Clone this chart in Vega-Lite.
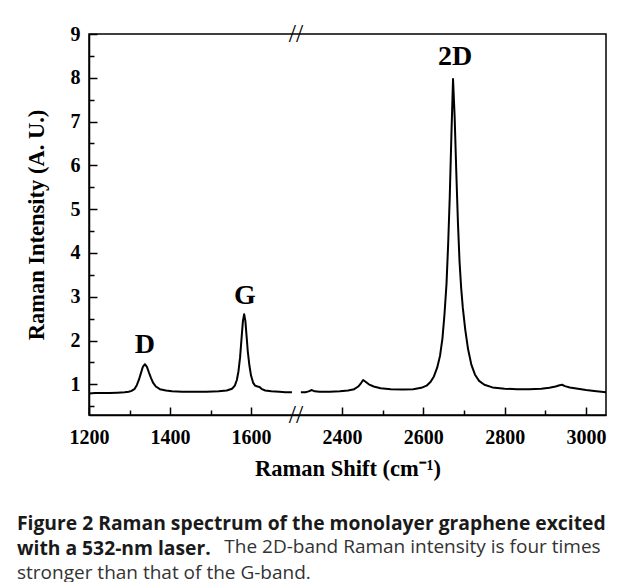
{
  "$schema": "https://vega.github.io/schema/vega-lite/v6.json",
  "width": 517,
  "height": 381,
  "padding": {"left": 17, "top": 21, "right": 5, "bottom": 0},
  "background": "white",
  "datasets": {
    "spectrum": [
      {"shift": 1200, "intensity": 0.79, "seg": "a"},
      {"shift": 1215, "intensity": 0.80, "seg": "a"},
      {"shift": 1230, "intensity": 0.80, "seg": "a"},
      {"shift": 1250, "intensity": 0.80, "seg": "a"},
      {"shift": 1270, "intensity": 0.81, "seg": "a"},
      {"shift": 1288, "intensity": 0.82, "seg": "a"},
      {"shift": 1298, "intensity": 0.83, "seg": "a"},
      {"shift": 1305, "intensity": 0.85, "seg": "a"},
      {"shift": 1312, "intensity": 0.89, "seg": "a"},
      {"shift": 1318, "intensity": 0.98, "seg": "a"},
      {"shift": 1323, "intensity": 1.10, "seg": "a"},
      {"shift": 1328, "intensity": 1.25, "seg": "a"},
      {"shift": 1333, "intensity": 1.40, "seg": "a"},
      {"shift": 1338, "intensity": 1.46, "seg": "a"},
      {"shift": 1343, "intensity": 1.40, "seg": "a"},
      {"shift": 1348, "intensity": 1.27, "seg": "a"},
      {"shift": 1353, "intensity": 1.15, "seg": "a"},
      {"shift": 1358, "intensity": 1.04, "seg": "a"},
      {"shift": 1365, "intensity": 0.95, "seg": "a"},
      {"shift": 1375, "intensity": 0.89, "seg": "a"},
      {"shift": 1390, "intensity": 0.86, "seg": "a"},
      {"shift": 1405, "intensity": 0.84, "seg": "a"},
      {"shift": 1430, "intensity": 0.83, "seg": "a"},
      {"shift": 1460, "intensity": 0.83, "seg": "a"},
      {"shift": 1490, "intensity": 0.83, "seg": "a"},
      {"shift": 1520, "intensity": 0.84, "seg": "a"},
      {"shift": 1540, "intensity": 0.86, "seg": "a"},
      {"shift": 1553, "intensity": 0.90, "seg": "a"},
      {"shift": 1560, "intensity": 0.97, "seg": "a"},
      {"shift": 1565, "intensity": 1.10, "seg": "a"},
      {"shift": 1569, "intensity": 1.30, "seg": "a"},
      {"shift": 1573, "intensity": 1.62, "seg": "a"},
      {"shift": 1577, "intensity": 2.10, "seg": "a"},
      {"shift": 1580, "intensity": 2.45, "seg": "a"},
      {"shift": 1583, "intensity": 2.60, "seg": "a"},
      {"shift": 1586, "intensity": 2.45, "seg": "a"},
      {"shift": 1589, "intensity": 2.10, "seg": "a"},
      {"shift": 1592, "intensity": 1.75, "seg": "a"},
      {"shift": 1596, "intensity": 1.43, "seg": "a"},
      {"shift": 1600, "intensity": 1.20, "seg": "a"},
      {"shift": 1605, "intensity": 1.04, "seg": "a"},
      {"shift": 1610, "intensity": 0.97, "seg": "a"},
      {"shift": 1616, "intensity": 0.95, "seg": "a"},
      {"shift": 1621, "intensity": 0.94, "seg": "a"},
      {"shift": 1627, "intensity": 0.89, "seg": "a"},
      {"shift": 1635, "intensity": 0.86, "seg": "a"},
      {"shift": 1650, "intensity": 0.84, "seg": "a"},
      {"shift": 1670, "intensity": 0.83, "seg": "a"},
      {"shift": 1685, "intensity": 0.82, "seg": "a"},
      {"shift": 1701, "intensity": 0.82, "seg": "a"},
      {"shift": 2299, "intensity": 0.82, "seg": "b"},
      {"shift": 2310, "intensity": 0.82, "seg": "b"},
      {"shift": 2318, "intensity": 0.84, "seg": "b"},
      {"shift": 2326, "intensity": 0.87, "seg": "b"},
      {"shift": 2333, "intensity": 0.84, "seg": "b"},
      {"shift": 2345, "intensity": 0.83, "seg": "b"},
      {"shift": 2370, "intensity": 0.83, "seg": "b"},
      {"shift": 2395, "intensity": 0.84, "seg": "b"},
      {"shift": 2415, "intensity": 0.86, "seg": "b"},
      {"shift": 2430, "intensity": 0.89, "seg": "b"},
      {"shift": 2440, "intensity": 0.95, "seg": "b"},
      {"shift": 2447, "intensity": 1.03, "seg": "b"},
      {"shift": 2452, "intensity": 1.10, "seg": "b"},
      {"shift": 2458, "intensity": 1.06, "seg": "b"},
      {"shift": 2466, "intensity": 1.00, "seg": "b"},
      {"shift": 2478, "intensity": 0.95, "seg": "b"},
      {"shift": 2495, "intensity": 0.91, "seg": "b"},
      {"shift": 2520, "intensity": 0.89, "seg": "b"},
      {"shift": 2550, "intensity": 0.88, "seg": "b"},
      {"shift": 2575, "intensity": 0.89, "seg": "b"},
      {"shift": 2595, "intensity": 0.92, "seg": "b"},
      {"shift": 2608, "intensity": 0.97, "seg": "b"},
      {"shift": 2618, "intensity": 1.06, "seg": "b"},
      {"shift": 2626, "intensity": 1.18, "seg": "b"},
      {"shift": 2634, "intensity": 1.38, "seg": "b"},
      {"shift": 2641, "intensity": 1.65, "seg": "b"},
      {"shift": 2647, "intensity": 2.05, "seg": "b"},
      {"shift": 2652, "intensity": 2.60, "seg": "b"},
      {"shift": 2657, "intensity": 3.30, "seg": "b"},
      {"shift": 2661, "intensity": 4.20, "seg": "b"},
      {"shift": 2665, "intensity": 5.30, "seg": "b"},
      {"shift": 2669, "intensity": 6.70, "seg": "b"},
      {"shift": 2673, "intensity": 7.97, "seg": "b"},
      {"shift": 2677, "intensity": 7.10, "seg": "b"},
      {"shift": 2681, "intensity": 5.85, "seg": "b"},
      {"shift": 2685, "intensity": 4.70, "seg": "b"},
      {"shift": 2689, "intensity": 3.80, "seg": "b"},
      {"shift": 2693, "intensity": 3.20, "seg": "b"},
      {"shift": 2697, "intensity": 2.75, "seg": "b"},
      {"shift": 2703, "intensity": 2.25, "seg": "b"},
      {"shift": 2710, "intensity": 1.80, "seg": "b"},
      {"shift": 2718, "intensity": 1.45, "seg": "b"},
      {"shift": 2727, "intensity": 1.22, "seg": "b"},
      {"shift": 2737, "intensity": 1.08, "seg": "b"},
      {"shift": 2750, "intensity": 0.99, "seg": "b"},
      {"shift": 2770, "intensity": 0.93, "seg": "b"},
      {"shift": 2800, "intensity": 0.90, "seg": "b"},
      {"shift": 2830, "intensity": 0.89, "seg": "b"},
      {"shift": 2860, "intensity": 0.89, "seg": "b"},
      {"shift": 2890, "intensity": 0.90, "seg": "b"},
      {"shift": 2910, "intensity": 0.92, "seg": "b"},
      {"shift": 2925, "intensity": 0.95, "seg": "b"},
      {"shift": 2935, "intensity": 0.98, "seg": "b"},
      {"shift": 2941, "intensity": 0.99, "seg": "b"},
      {"shift": 2948, "intensity": 0.96, "seg": "b"},
      {"shift": 2960, "intensity": 0.93, "seg": "b"},
      {"shift": 2980, "intensity": 0.90, "seg": "b"},
      {"shift": 3000, "intensity": 0.87, "seg": "b"},
      {"shift": 3020, "intensity": 0.85, "seg": "b"},
      {"shift": 3049, "intensity": 0.82, "seg": "b"}
    ],
    "bands": [
      {"shift": 1338, "intensity": 1.89, "band": "D"},
      {"shift": 1585, "intensity": 3.01, "band": "G"},
      {"shift": 2678, "intensity": 8.47, "band": "2D"}
    ],
    "breaks": [
      {"shift": 1711, "intensity": 9, "mark": "//"},
      {"shift": 1711, "intensity": 0.3, "mark": "//"}
    ]
  },
  "layer": [
    {
      "data": {"name": "spectrum"},
      "mark": {"type": "line", "color": "black", "strokeWidth": 2, "strokeJoin": "round"},
      "encoding": {
        "x": {
          "field": "shift", "type": "quantitative",
          "scale": {"type": "linear", "domain": [1200, 1711, 2287, 3049], "range": [0, 207, 207, 517], "nice": false, "zero": false},
          "axis": {
            "values": [1200, 1400, 1600, 2400, 2600, 2800, 3000], "format": "d",
            "tickSize": -8, "labelPadding": 20, "labelFlush": false, "labelOverlap": false,
            "title": "Raman Shift (cm⁻¹)", "titlePadding": 10
          }
        },
        "y": {
          "field": "intensity", "type": "quantitative",
          "scale": {"domain": [0.3, 9], "nice": false, "zero": false},
          "axis": {
            "values": [1, 2, 3, 4, 5, 6, 7, 8, 9], "format": "d",
            "tickSize": -8, "labelPadding": 17, "labelFlush": false, "labelOverlap": false,
            "title": "Raman Intensity (A. U.)", "titlePadding": 22
          }
        },
        "detail": {"field": "seg"}
      }
    },
    {
      "data": {"name": "bands"},
      "mark": {"type": "text", "font": "Liberation Serif", "fontWeight": "bold", "fontSize": 28, "color": "black", "baseline": "middle", "align": "center"},
      "encoding": {
        "x": {"field": "shift", "type": "quantitative",
          "axis": {"values": [1300, 1500, 2500, 2700, 2900], "tickSize": -5, "labels": false, "domain": false, "title": null, "orient": "bottom", "grid": false}},
        "y": {"field": "intensity", "type": "quantitative",
          "axis": {"values": [0.5, 1.5, 2.5, 3.5, 4.5, 5.5, 6.5, 7.5, 8.5], "tickSize": -5, "labels": false, "domain": false, "title": null, "orient": "left", "grid": false}},
        "text": {"field": "band"}
      }
    },
    {
      "data": {"name": "breaks"},
      "mark": {"type": "text", "font": "Liberation Serif", "fontSize": 26, "color": "black", "baseline": "middle", "align": "center"},
      "encoding": {
        "x": {"field": "shift", "type": "quantitative", "axis": null},
        "y": {"field": "intensity", "type": "quantitative", "axis": null},
        "text": {"field": "mark"}
      }
    }
  ],
  "resolve": {"axis": {"x": "independent", "y": "independent"}},
  "title": {
    "text": ["Figure 2 Raman spectrum of the monolayer graphene excited", "with a 532-nm laser."],
    "subtitle": ["\u200b\u00a0\u00a0\u00a0\u00a0\u00a0\u00a0\u00a0\u00a0\u00a0\u00a0\u00a0\u00a0\u00a0\u00a0\u00a0\u00a0\u00a0\u00a0\u00a0\u00a0\u00a0\u00a0\u00a0\u00a0\u00a0\u00a0\u00a0\u00a0\u00a0\u00a0\u00a0\u00a0\u00a0\u00a0\u00a0\u00a0\u00a0\u00a0\u00a0\u00a0\u00a0\u00a0The 2D-band Raman intensity is four times", "stronger than that of the G-band."],
    "orient": "bottom", "anchor": "start", "frame": "bounds",
    "font": "Open Sans", "fontSize": 19.3, "fontWeight": "bold", "color": "#1a1a1a", "lineHeight": 25.5,
    "subtitleFont": "Open Sans", "subtitleFontSize": 19, "subtitleFontWeight": "normal", "subtitleColor": "#333333", "subtitleLineHeight": 25.5,
    "subtitlePadding": -21, "offset": 35, "dx": -8
  },
  "config": {
    "view": {"stroke": "black", "strokeWidth": 1.5},
    "axis": {
      "grid": false, "domainColor": "black", "domainWidth": 1.5, "tickColor": "black", "tickWidth": 1.5,
      "labelColor": "black", "labelFont": "Liberation Serif", "labelFontWeight": "bold", "labelFontSize": 20,
      "titleColor": "black", "titleFont": "Liberation Serif", "titleFontWeight": "bold", "titleFontSize": 22.5
    }
  }
}
